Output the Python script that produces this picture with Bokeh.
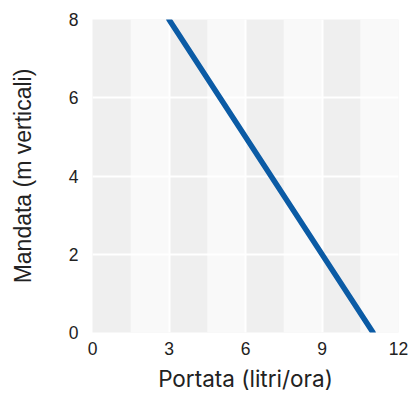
from bokeh.plotting import figure
from bokeh.models import Range1d, FixedTicker, Grid
from bokeh.embed import file_html
from bokeh.resources import INLINE

portata = [3, 11]
mandata = [8, 0]
x_ticks = [0, 3, 6, 9, 12]
y_ticks = [0, 2, 4, 6, 8]
band_ticks = [0, 1.5, 3, 4.5, 6, 7.5, 9, 10.5, 12]

p = figure(width=410, height=396, output_backend="svg", toolbar_location=None,
           x_range=Range1d(0, 12), y_range=Range1d(0, 8),
           min_border_left=92, min_border_right=12, min_border_top=19, min_border_bottom=64)
p.outline_line_color = None
p.background_fill_color = "#efefef"
p.border_fill_color = "white"

# bands on the main x grid
p.xgrid.ticker = FixedTicker(ticks=band_ticks)
p.xgrid.grid_line_color = None
p.xgrid.band_fill_color = "#f9f9f9"
p.xgrid.band_fill_alpha = 1.0

line_grid = Grid(dimension=0, ticker=FixedTicker(ticks=x_ticks),
                 grid_line_color="white", grid_line_width=2)
p.add_layout(line_grid)

p.xaxis.ticker = FixedTicker(ticks=x_ticks)
p.yaxis.ticker = FixedTicker(ticks=y_ticks)
p.ygrid.ticker = FixedTicker(ticks=y_ticks)
p.ygrid.grid_line_color = "white"
p.ygrid.grid_line_width = 2

for ax in (p.xaxis, p.yaxis):
    ax.axis_line_color = None
    ax.major_tick_line_color = None
    ax.minor_tick_line_color = None
    ax.major_tick_out = 0
    ax.major_tick_in = 0
    ax.major_label_text_font = "Liberation Sans"
    ax.major_label_text_font_size = "17.5px"
    ax.major_label_text_color = "#222222"
    ax.axis_label_text_font_style = "normal"
    ax.axis_label_text_color = "#222222"

p.xaxis.axis_label = "Portata (litri/ora)"
p.yaxis.axis_label = "Mandata (m verticali)"
p.xaxis.axis_label_text_font = "Inter"
p.xaxis.axis_label_text_font_size = "22.5px"
p.yaxis.axis_label_text_font = "Liberation Sans"
p.yaxis.axis_label_text_font_size = "23px"
p.xaxis.major_label_standoff = 9
p.yaxis.major_label_standoff = 14
p.xaxis.axis_label_standoff = 7
p.yaxis.axis_label_standoff = 30

p.line(portata, mandata, line_color="#0b5ba5", line_width=5.5, line_cap="round")

open("out.html", "w").write(file_html(p, INLINE))
